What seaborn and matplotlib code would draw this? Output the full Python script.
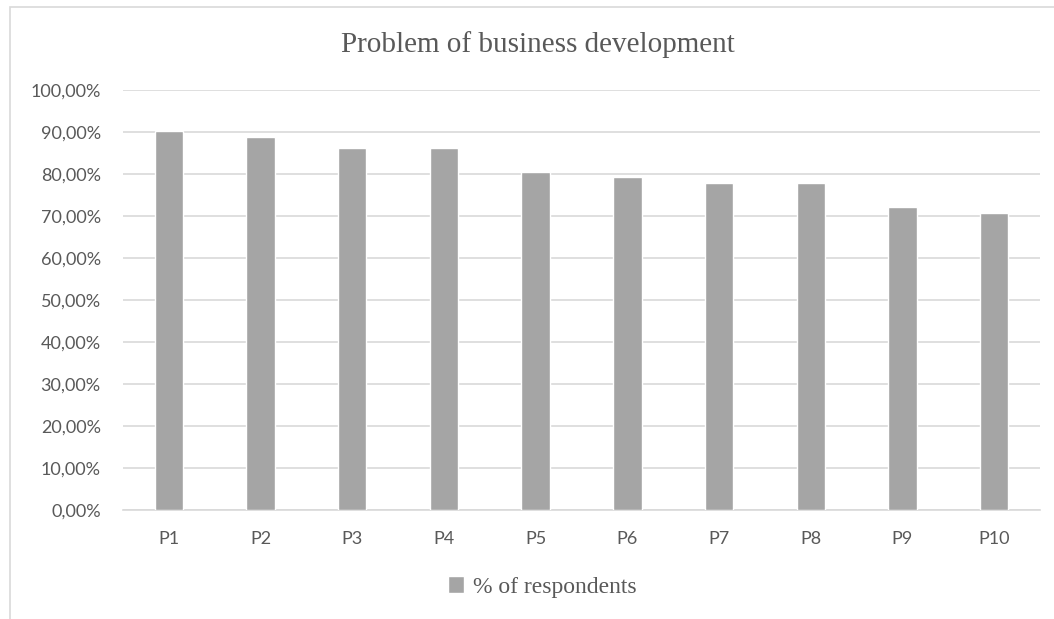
import matplotlib
matplotlib.use("Agg")
import matplotlib.pyplot as plt
from matplotlib.patches import Rectangle
from matplotlib.ticker import FuncFormatter, MultipleLocator
import seaborn as sns
import pandas as pd

problems = ["P1", "P2", "P3", "P4", "P5", "P6", "P7", "P8", "P9", "P10"]
share_pct = [90.28, 88.89, 86.11, 86.11, 80.56, 79.17, 77.78, 77.78, 72.22, 70.83]
series_name = "% of respondents"
title_text = "Problem of business development"

df = pd.DataFrame({"problem": problems, "share": share_pct, "series": series_name})

sns.set_theme(style="white")
plt.rcParams["font.family"] = ["Lato", "DejaVu Sans"]

text_grey = "#595959"
grid_grey = "#D9D9D9"
bar_grey = "#A5A5A5"

W, H = 1054, 619
fig = plt.figure(figsize=(W / 100, H / 100), dpi=100)
ax = fig.add_axes([123 / W, 1 - 510 / H, (1040 - 123) / W, (510 - 90) / H])

sns.barplot(data=df, x="problem", y="share", hue="series", palette=[bar_grey],
            width=0.31, ax=ax, zorder=3, legend=True, saturation=1)

ax.set_ylim(0, 100)
ax.set_xlim(-0.5, len(problems) - 0.5)
ax.yaxis.set_major_locator(MultipleLocator(10))
ax.yaxis.set_major_formatter(FuncFormatter(lambda v, _: f"{v:.2f}".replace(".", ",") + "%"))
ax.grid(axis="y", color=grid_grey, linewidth=1.2, zorder=0)
ax.set_axisbelow(True)
for side in ("top", "right", "left"):
    ax.spines[side].set_visible(False)
ax.spines["bottom"].set_color(grid_grey)
ax.spines["bottom"].set_linewidth(1.2)
ax.set_xlabel("")
ax.set_ylabel("")
ax.tick_params(axis="both", length=0, labelsize=13, colors=text_grey)
ax.tick_params(axis="y", pad=16)
ax.tick_params(axis="x", pad=15)

fig.text(537.5 / W, 1 - 52 / H, title_text, ha="center", va="baseline",
         fontsize=21, color=text_grey, family="Liberation Serif")

handles, labels = ax.get_legend_handles_labels()
ax.legend(handles, labels, loc="center", bbox_to_anchor=(542 / W, 1 - 587 / H),
          bbox_transform=fig.transFigure, frameon=False, handlelength=0.7,
          handleheight=0.7, handletextpad=0.35,
          prop={"family": "Liberation Serif", "size": 17}, labelcolor=text_grey)

# chart-area frame
fig.patches.append(Rectangle((10 / W, -0.05), 1.2, 1 - 7 / H + 0.05,
                             transform=fig.transFigure, fill=False,
                             edgecolor=grid_grey, linewidth=1.2))

fig.savefig("out.png", dpi=100)
